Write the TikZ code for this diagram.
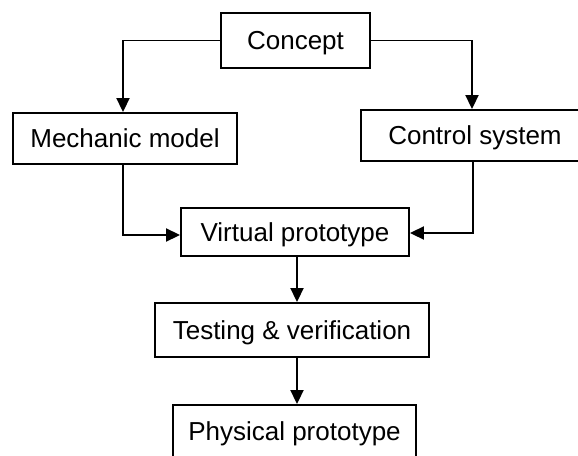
\documentclass[tikz,border=0pt]{standalone}
\usepackage{fontspec}
\setmainfont{Liberation Sans}
\usetikzlibrary{arrows.meta}
\begin{document}
\begin{tikzpicture}[x=1pt,y=-1pt,
  box/.style={draw=black,line width=1.9pt,rectangle,inner sep=0pt,
    font=\fontsize{26}{31}\selectfont,text height=18.5pt,text depth=0pt},
  link/.style={draw=black,line width=1.9pt,-{Triangle[length=14pt,width=13pt]}}]
\clip (0,0) rectangle (578,455);
\fill[white] (0,0) rectangle (578,455);

\node[box,minimum width=149pt,minimum height=55pt] (concept) at (295.5,40.5) {Concept};
\node[box,minimum width=224pt,minimum height=51pt] (mech) at (125,138.5) {Mechanic model};
\node[box,minimum width=228pt,minimum height=51pt] (ctrl) at (475,135.5) {Control system};
\node[box,minimum width=228pt,minimum height=48pt] (virt) at (295,232) {Virtual prototype};
\node[box,minimum width=274pt,minimum height=54pt] (test) at (292,330) {Testing \& verification};
\node[box,minimum width=243pt,minimum height=52pt] (phys) at (294.5,431) {Physical prototype};

\draw[link] (concept.west) -- (123,40.5) -- (mech.north -| 123,0);
\draw[link] (concept.east) -- (472,40.5) -- (ctrl.north -| 472,0);
\draw[link] (mech.south -| 123,0) -- (123,235) -- (virt.west |- 0,235);
\draw[link] (ctrl.south -| 473,0) -- (473,233) -- (virt.east |- 0,233);
\draw[link] (virt.south -| 297,0) -- (test.north -| 297,0);
\draw[link] (test.south -| 297,0) -- (phys.north -| 297,0);
\end{tikzpicture}
\end{document}
